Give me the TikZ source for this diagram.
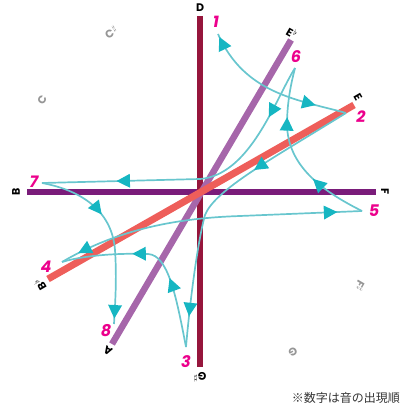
\documentclass[tikz,border=0pt]{standalone}
\usepackage{fontspec}
\setsansfont{Poppins}
\newfontfamily\jpfont{Noto Sans CJK JP}
\usetikzlibrary{arrows.meta,decorations.markings}
\definecolor{lineC}{RGB}{104,198,206}
\definecolor{arrC}{RGB}{22,182,194}
\definecolor{axD}{RGB}{150,22,60}
\definecolor{axB}{RGB}{122,28,122}
\definecolor{axE}{RGB}{238,94,90}
\definecolor{axEb}{RGB}{166,102,170}
\definecolor{numC}{RGB}{236,0,140}
\definecolor{grayL}{RGB}{150,150,150}
\tikzset{
  tipA/.tip={Triangle[length=13.5pt,width=13.5pt,color=arrC]},
  axisline/.style={line width=6.5pt},
  note/.style={font=\sffamily\bfseries\fontsize{11}{11}\selectfont, text=black, inner sep=0pt},
  ghost/.style={note, text=grayL},
  num/.style={font=\sffamily\bfseries\itshape\fontsize{16}{16}\selectfont, text=numC, inner sep=0pt},
  route/.style={draw=lineC, line width=1.7pt},
  fwd/.style={postaction={decorate,decoration={markings,mark=at position #1 with {\arrow{tipA}}}}},
  rev/.style={postaction={decorate,decoration={markings,mark=at position #1 with {\arrowreversed{tipA}}}}}
}
\begin{document}
\begin{tikzpicture}[x=1pt,y=-1pt]
\useasboundingbox (0,0) rectangle (403,411);
% axes
\draw[axisline, axB] (27,192) -- (376,192);
\draw[axisline, axD] (200,16) -- (200,367);
\draw[axisline, axEb] (291,40) -- (112,344);
\draw[axisline, axE, line width=7pt] (354,105) -- (48,279);
% note labels
\node[note] (lD) at (200,8) {D};
\node[note, rotate=-30] (lEb) at (292,33) {E\kern0.5pt$^\flat$};
\node[note, rotate=-60] (lE) at (358,97) {E};
\node[note, rotate=-90] (lF) at (385,192) {F};
\node[ghost, rotate=-120] (lFs) at (360,286) {F\kern0.5pt$^\sharp$};
\node[ghost, rotate=-150] (lG) at (293,352) {G};
\node[note, rotate=180] (lGs) at (200,377) {G\kern0.5pt$^\sharp$};
\node[note, rotate=150] (lA) at (108,351) {A};
\node[note, rotate=120] (lBb) at (40,285) {B\kern0.5pt$^\flat$};
\node[note, rotate=90] (lB) at (16,192) {B};
\node[ghost, rotate=60] (lC) at (42,100) {C};
\node[ghost, rotate=30] (lCs) at (111,32) {C\kern0.5pt$^\sharp$};
% order numbers
\node[num] (n1) at (216,22) {1};
\node[num] (n2) at (361,117) {2};
\node[num] (n3) at (186,362) {3};
\node[num] (n4) at (46,267) {4};
\node[num] (n5) at (374,211) {5};
\node[num] (n6) at (296,57) {6};
\node[num] (n7) at (34,182) {7};
\node[num] (n8) at (106,331) {8};
% route anchors
\coordinate (c1) at (218,34);
\coordinate (c2) at (346,113);
\coordinate (c3) at (186,347);
\coordinate (c4) at (62,262);
\coordinate (c5) at (362,211);
\coordinate (c6) at (295,68);
\coordinate (c7) at (42,183);
\coordinate (c8) at (114,324);
% routes
\draw[route, rev=0.02, fwd=0.8] (c1) .. controls (245,95) and (300,100) .. (c2);
\draw[route, fwd=0.35, fwd=0.9] (c2) .. controls (270,160) and (215,190) .. (205,215) .. controls (198,240) and (190,300) .. (c3);
\draw[route, fwd=0.37, fwd=0.63] (c3) .. controls (176,295) and (168,255) .. (148,254) .. controls (120,253) and (85,255) .. (c4);
\draw[route, rev=0.06, fwd=0.92] (c4) .. controls (120,228) and (180,218) .. (240,216) -- (c5);
\draw[route, fwd=0.33, fwd=0.72] (c5) .. controls (320,190) and (288,165) .. (287,125) .. controls (287,100) and (292,80) .. (c6);
\draw[route, fwd=0.18, fwd=0.76] (c6) .. controls (275,100) and (250,175) .. (200,179) -- (c7);
\draw[route, fwd=0.38, fwd=0.97] (c7) .. controls (80,190) and (112,210) .. (115,250) .. controls (117,280) and (115,305) .. (c8);
% footnote
\node[font=\jpfont\fontsize{12}{12}\selectfont, text=black!80, anchor=east, inner sep=0pt] (foot) at (400,398) {※数字は音の出現順};
\end{tikzpicture}
\end{document}
